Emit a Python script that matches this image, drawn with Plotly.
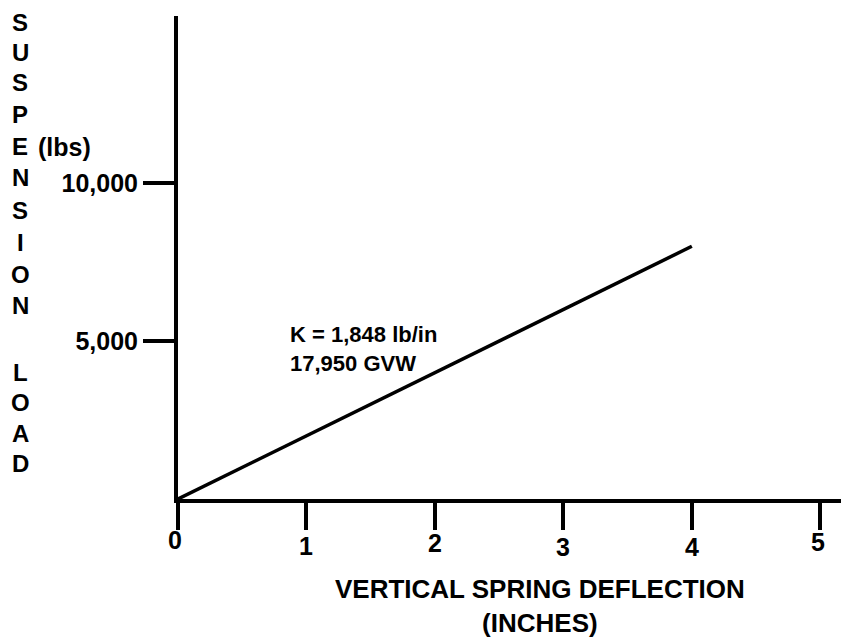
import plotly.graph_objects as go

# Data
deflection_in = [0, 4]
load_lbs = [0, 8000]
x_ticks = [0, 1, 2, 3, 4, 5]
x_tick_labels = ["0", "1", "2", "3", "4", "5"]
y_ticks = [5000, 10000]
y_tick_labels = ["5,000", "10,000"]
y_title_letters = ["S", "U", "S", "P", "E", "N", "S", "I", "O", "N", "L", "O", "A", "D"]

W, H = 849, 638
OFF = 8  # page body margin
L, R, T, B = 170, 11, 8, 147
PW, PH = W - L - R, H - T - B

def px(x):  # true page pixel -> paper
    return (x - OFF - L) / PW

def py(y):
    return (H - B - (y - OFF)) / PH

fig = go.Figure()
fig.add_trace(go.Scatter(x=deflection_in, y=load_lbs, mode="lines",
                         line=dict(color="black", width=3.5), showlegend=False,
                         hoverinfo="skip"))

FAM = "Liberation Sans, Arial, sans-serif"
font_b = dict(family=FAM, size=24, color="black", weight="bold")
font_t = dict(family=FAM, size=25, color="black", weight="bold")

annotations = []
letter_y = [22, 52, 82, 114, 146, 178, 210, 242, 274, 305, 372, 402, 433, 463]
for ch, yy in zip(y_title_letters, letter_y):
    annotations.append(dict(text=ch, xref="paper", yref="paper", x=px(20), y=py(yy),
                            xanchor="center", yanchor="middle", showarrow=False, font=font_b))
annotations.append(dict(text="(lbs)", xref="paper", yref="paper", x=px(36), y=py(147),
                        xanchor="left", yanchor="middle", showarrow=False, font=font_t))
# x tick labels
x_label_y = [540, 546, 543, 547, 547, 542]
x_label_shift = [-3, 0, 0, 0, 0, -2]
for xv, lab, yy, sh in zip(x_ticks, x_tick_labels, x_label_y, x_label_shift):
    annotations.append(dict(text=lab, xref="x", yref="paper", x=xv, y=py(yy),
                            xanchor="center", yanchor="middle", showarrow=False, font=font_t,
                            xshift=sh))
# x title
annotations.append(dict(text="VERTICAL SPRING DEFLECTION<br>(INCHES)", xref="paper", yref="paper",
                        x=px(540), y=py(606), xanchor="center", yanchor="middle", showarrow=False,
                        font=dict(family=FAM, size=26, color="black", weight="bold")))
# line annotation
annotations.append(dict(text="K = 1,848 lb/in<br>17,950 GVW", xref="paper", yref="paper",
                        x=px(288), y=py(349), xanchor="left", yanchor="middle", align="left",
                        showarrow=False,
                        font=dict(family=FAM, size=22, color="black", weight="bold")))

fig.update_layout(
    width=W, height=H,
    margin=dict(l=L, r=R, t=T, b=B),
    paper_bgcolor="white", plot_bgcolor="white",
    annotations=annotations,
    xaxis=dict(range=[0, 5.2], showgrid=False, zeroline=False, showline=True,
               linecolor="black", linewidth=4, tickmode="array", tickvals=x_ticks,
               ticktext=[""] * len(x_ticks), ticks="outside", ticklen=27, tickwidth=3.5,
               tickcolor="black", fixedrange=True),
    yaxis=dict(range=[0, 15290], showgrid=False, zeroline=False, showline=True,
               linecolor="black", linewidth=4, tickmode="array", tickvals=y_ticks,
               ticktext=y_tick_labels, ticks="outside", ticklen=31, tickwidth=3.5,
               tickcolor="black", tickfont=font_t, ticklabelstandoff=0, fixedrange=True),
)

fig.write_html("out.html")
